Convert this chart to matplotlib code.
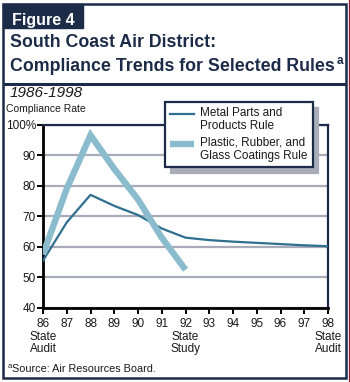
import numpy as np
import matplotlib
matplotlib.use("Agg")
import matplotlib.pyplot as plt
from matplotlib.patches import Rectangle
from matplotlib.lines import Line2D
from matplotlib.legend_handler import HandlerLine2D

plt.rcParams["font.family"] = ["Liberation Sans", "DejaVu Sans"]

# data
years = [86, 87, 88, 89, 90, 91, 92, 93, 94, 95, 96, 97, 98]
metal_rate = [55.5, 68, 77, 73.4, 70.4, 66, 63, 62.2, 61.7, 61.3, 60.9, 60.5, 60.2]
plastic_years = [86, 87, 88, 89, 90, 91, 92]
plastic_rate = [57.5, 79, 96.5, 85.5, 75.5, 63, 52.5]

series_labels = ["Metal Parts and\nProducts Rule", "Plastic, Rubber, and\nGlass Coatings Rule"]
y_ticks = [40, 50, 60, 70, 80, 90, 100]
y_tick_labels = ["40", "50", "60", "70", "80", "90", "100%"]
x_tick_labels = ["86\nState\nAudit", "87", "88", "89", "90", "91", "92\nState\nStudy",
                 "93", "94", "95", "96", "97", "98\nState\nAudit"]

NAVY = "#1c2b48"
METAL = "#2f6f8f"
PLASTIC = "#8bbccd"
GRID = "#a9abba"
TXT = "#1a1a1a"

W, H = 350, 382
fig = plt.figure(figsize=(W / 100, H / 100), dpi=100)

# background / frame, in pixel coordinates
bg = fig.add_axes([0, 0, 1, 1], zorder=-1)
bg.set_xlim(0, W)
bg.set_ylim(H, 0)
bg.axis("off")
bg.add_patch(Rectangle((3, 4), 343, 374, fill=False, edgecolor=NAVY, linewidth=1.8))
bg.add_patch(Rectangle((3, 4), 80, 24, facecolor=NAVY, edgecolor=NAVY, linewidth=1))
bg.plot([3, 346], [84, 84], color=NAVY, linewidth=2.2, solid_capstyle="butt")
bg.plot([348.5, 348.5], [0, H], color="#8c1c2c", linewidth=0.9)

bg.text(12, 24.5, "Figure 4", color="white", fontsize=11.5, fontweight="bold", va="baseline")
bg.text(10, 47, "South Coast Air District:", color=NAVY, fontsize=12.8, fontweight="bold", va="baseline")
t2 = bg.text(10, 71, "Compliance Trends for Selected Rules", color=NAVY, fontsize=12.8,
             fontweight="bold", va="baseline")
fig.canvas.draw()
ext = t2.get_window_extent()
bg.text(ext.x1 + 2, 64, "a", color=NAVY, fontsize=8.5, fontweight="bold", va="baseline")
bg.text(10, 97, "1986-1998", color=TXT, fontsize=11, style="italic", va="baseline")
bg.text(6, 112.5, "Compliance Rate", color=TXT, fontsize=7.5, va="baseline")
bg.text(8, 368, "a", color=TXT, fontsize=5.5, va="baseline")
bg.text(12.5, 372, "Source: Air Resources Board.", color=TXT, fontsize=7.8, va="baseline")

# chart
ax = fig.add_axes([43 / W, 1 - 308 / H, (328 - 43) / W, (308 - 124.5) / H])
ax.set_facecolor("none")
ln_plastic, = ax.plot(plastic_years, plastic_rate, color=PLASTIC, linewidth=4.6,
                      solid_joinstyle="miter", solid_capstyle="butt", zorder=4)
ln_metal, = ax.plot(years, metal_rate, color=METAL, linewidth=1.6, zorder=3)

ax.set_xlim(86, 98)
ax.set_ylim(40, 100)
ax.set_yticks(y_ticks)
ax.set_yticklabels(y_tick_labels)
ax.set_xticks(years)
ax.set_xticklabels(x_tick_labels, linespacing=1.05)
ax.tick_params(axis="both", direction="out", length=4, width=1.4, colors="black",
               labelcolor=TXT, labelsize=8.5)
ax.tick_params(axis="y", pad=1)
ax.tick_params(axis="x", pad=3.5)

ax.grid(axis="y", color=GRID, linewidth=1.6)
ax.set_axisbelow(True)
for side in ["left", "bottom"]:
    ax.spines[side].set_color("black")
    ax.spines[side].set_linewidth(2)
for side in ["top", "right"]:
    ax.spines[side].set_color(NAVY)
    ax.spines[side].set_linewidth(1.6)


class TopLine(HandlerLine2D):
    # put the legend sample next to the first line of a two-line label
    def create_artists(self, legend, orig_handle, xdescent, ydescent, width, height, fontsize, trans):
        arts = super().create_artists(legend, orig_handle, xdescent, ydescent, width, height, fontsize, trans)
        for a in arts:
            if isinstance(a, Line2D):
                a.set_ydata(np.asarray(a.get_ydata()) + 0.5 * fontsize)
        return arts


leg = ax.legend([ln_metal, ln_plastic], series_labels, loc="upper left",
                bbox_to_anchor=(165 / W, 1 - 102 / H), bbox_transform=fig.transFigure,
                borderaxespad=0, fontsize=8.5, frameon=True, fancybox=False,
                edgecolor=NAVY, framealpha=1, handlelength=2.0, handletextpad=0.5,
                borderpad=0.45, labelspacing=0.4,
                shadow={"ox": 4, "oy": -4, "color": "#a9adb9", "alpha": 1},
                handler_map={Line2D: TopLine()})
leg.get_frame().set_linewidth(1.6)
leg.set_zorder(10)
for t in leg.get_texts():
    t.set_linespacing(1.1)
    t.set_color(TXT)

fig.savefig("out.png", dpi=100)
